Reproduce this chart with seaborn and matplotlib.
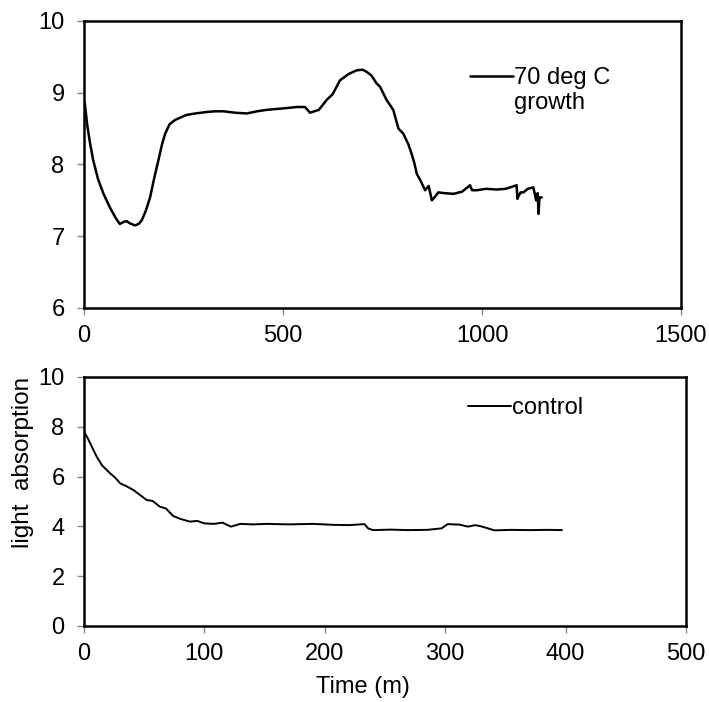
import numpy as np
import pandas as pd
import matplotlib.pyplot as plt
from matplotlib.lines import Line2D
import seaborn as sns

# 70 deg C growth run
t_hot = [0, 2, 8, 15, 23, 35, 49, 65, 80, 90, 100, 107, 115, 128, 137, 145, 155, 166,
         176, 187, 196, 204, 215, 229, 245, 258, 280, 308, 330, 350, 380, 409, 435,
         459, 500, 535, 555, 568, 590, 610, 625, 643, 665, 685, 700, 710, 722, 735,
         744, 760, 777, 790, 802, 815, 823, 830, 836, 845, 857, 866, 874, 882, 890,
         905, 928, 950, 970, 975, 987, 1010, 1037, 1060, 1087, 1089, 1091, 1097,
         1104, 1115, 1129, 1133, 1136, 1140, 1142, 1144, 1145, 1150]
y_hot = [8.88, 8.85, 8.55, 8.30, 8.06, 7.80, 7.59, 7.40, 7.25, 7.17, 7.20, 7.21, 7.18,
         7.15, 7.17, 7.22, 7.35, 7.54, 7.80, 8.06, 8.28, 8.43, 8.56, 8.62, 8.66,
         8.69, 8.71, 8.73, 8.74, 8.74, 8.72, 8.71, 8.74, 8.76, 8.78, 8.80, 8.80,
         8.72, 8.76, 8.90, 8.98, 9.17, 9.26, 9.31, 9.32, 9.29, 9.24, 9.13, 9.08,
         8.90, 8.76, 8.50, 8.43, 8.28, 8.15, 8.02, 7.87, 7.78, 7.64, 7.70, 7.50,
         7.55, 7.61, 7.60, 7.59, 7.62, 7.71, 7.64, 7.64, 7.66, 7.65, 7.66, 7.71,
         7.52, 7.55, 7.61, 7.61, 7.66, 7.68, 7.58, 7.50, 7.60, 7.31, 7.50, 7.54,
         7.54]

# control run
t_ctl = [0, 3, 7, 10.5, 15, 21.7, 26, 30, 35, 41, 46, 52, 57, 63, 68, 74, 80, 88, 94,
         100, 108, 115, 122, 130, 140, 152, 170, 190, 208, 220, 233, 236, 240, 255,
         269, 285, 297, 302, 312, 319, 325, 330, 341, 355, 369, 385, 397]
y_ctl = [7.80, 7.55, 7.15, 6.80, 6.45, 6.13, 5.95, 5.73, 5.62, 5.46, 5.28, 5.06,
         5.02, 4.79, 4.72, 4.42, 4.30, 4.19, 4.22, 4.12, 4.10, 4.15, 3.99, 4.10,
         4.08, 4.10, 4.08, 4.10, 4.06, 4.05, 4.09, 3.92, 3.85, 3.87, 3.85, 3.86,
         3.92, 4.09, 4.07, 3.99, 4.05, 4.00, 3.84, 3.86, 3.85, 3.86, 3.85]

hot = pd.DataFrame({'t': t_hot, 'y': y_hot})
ctl = pd.DataFrame({'t': t_ctl, 'y': y_ctl})

sns.set_style('white')
plt.rcParams['font.family'] = ['Liberation Sans', 'DejaVu Sans']
plt.rcParams['text.color'] = 'black'
plt.rcParams['axes.labelcolor'] = 'black'

fig = plt.figure(figsize=(7.09, 7.02), dpi=100)
ax1 = fig.add_axes([0.1185, 0.5613, 0.842, 0.409])
ax2 = fig.add_axes([0.1185, 0.1083, 0.849, 0.3547])

sns.lineplot(data=hot, x='t', y='y', ax=ax1, color='black', lw=1.8,
             label='70 deg C', estimator=None, sort=False)
sns.lineplot(data=ctl, x='t', y='y', ax=ax2, color='black', lw=1.4,
             label='control', estimator=None, sort=False)

ax1.set_xlim(0, 1500)
ax1.set_ylim(6, 10)
ax1.set_xticks([0, 500, 1000, 1500])
ax1.set_yticks([6, 7, 8, 9, 10])
ax2.set_xlim(0, 500)
ax2.set_ylim(0, 10)
ax2.set_xticks([0, 100, 200, 300, 400, 500])
ax2.set_yticks([0, 2, 4, 6, 8, 10])

for ax in (ax1, ax2):
    ax.set_xlabel('')
    ax.set_ylabel('')
    for s in ax.spines.values():
        s.set_color('black')
        s.set_linewidth(1.8)
    ax.tick_params(axis='both', which='both', direction='out', length=5,
                   width=1, color='#888888', labelcolor='black', labelsize=17,
                   bottom=True, left=True)
    ax.tick_params(axis='x', pad=7)
    ax.tick_params(axis='y', pad=9)

ax2.set_xlabel('Time (m)', fontsize=17)
ax2.xaxis.set_label_coords(0.463, -0.2)
ax2.set_ylabel('light  absorption', fontsize=17.5)
ax2.yaxis.set_label_coords(-0.083, 0.657)

# legend entry wraps onto a second line; handle sits on the first line
h1, l1 = ax1.get_legend_handles_labels()
blank = Line2D([], [], color='none')
ax1.legend(h1 + [blank], l1 + ['growth'], loc='upper left',
           bbox_to_anchor=(0.647, 0.838), frameon=False, fontsize=17,
           handlelength=1.8, handletextpad=0.05, borderpad=0,
           borderaxespad=0, labelspacing=0.1)
ax2.legend(loc='upper left', bbox_to_anchor=(0.638, 0.919), frameon=False,
           fontsize=17, handlelength=1.8, handletextpad=0.05, borderpad=0,
           borderaxespad=0)

plt.savefig('out.png', dpi=100)
